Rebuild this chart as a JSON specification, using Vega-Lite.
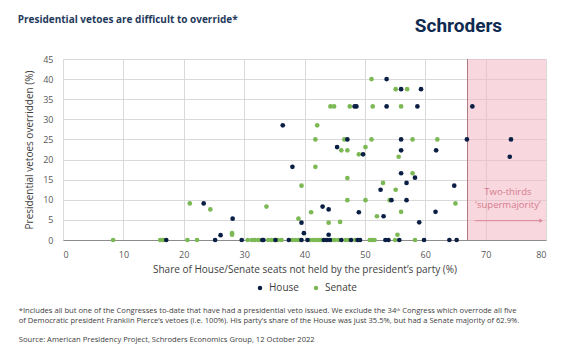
{
  "$schema": "https://vega.github.io/schema/vega-lite/v6.json",
  "width": 483,
  "height": 181,
  "autosize": {"type": "none"},
  "padding": {"left": 63, "top": 59, "right": 25, "bottom": 115},
  "background": "white",
  "config": {
    "view": {"stroke": null},
    "font": "Open Sans",
    "axis": {"gridColor": "#d9d9d9", "gridWidth": 1, "ticks": false, "labelFont": "Open Sans", "labelFontSize": 9, "labelColor": "#595959", "titleFont": "Open Sans", "titleFontSize": 10, "titleFontWeight": "normal", "titleColor": "#404040"}
  },
  "datasets": {
    "pts": [
      {"x": 8.3, "y": 0, "chamber": "Senate"},
      {"x": 16.1, "y": 0, "chamber": "Senate"},
      {"x": 16.4, "y": 0, "chamber": "Senate"},
      {"x": 16.7, "y": 0, "chamber": "Senate"},
      {"x": 20.6, "y": 0, "chamber": "Senate"},
      {"x": 22.2, "y": 0, "chamber": "Senate"},
      {"x": 30.6, "y": 0, "chamber": "Senate"},
      {"x": 31.3, "y": 0, "chamber": "Senate"},
      {"x": 31.8, "y": 0, "chamber": "Senate"},
      {"x": 32.4, "y": 0, "chamber": "Senate"},
      {"x": 34.0, "y": 0, "chamber": "Senate"},
      {"x": 34.5, "y": 0, "chamber": "Senate"},
      {"x": 35.0, "y": 0, "chamber": "Senate"},
      {"x": 35.6, "y": 0, "chamber": "Senate"},
      {"x": 36.2, "y": 0, "chamber": "Senate"},
      {"x": 38.0, "y": 0, "chamber": "Senate"},
      {"x": 38.5, "y": 0, "chamber": "Senate"},
      {"x": 39.0, "y": 0, "chamber": "Senate"},
      {"x": 39.3, "y": 0, "chamber": "Senate"},
      {"x": 40.9, "y": 0, "chamber": "Senate"},
      {"x": 41.4, "y": 0, "chamber": "Senate"},
      {"x": 41.9, "y": 0, "chamber": "Senate"},
      {"x": 42.4, "y": 0, "chamber": "Senate"},
      {"x": 42.8, "y": 0, "chamber": "Senate"},
      {"x": 44.5, "y": 0, "chamber": "Senate"},
      {"x": 45.0, "y": 0, "chamber": "Senate"},
      {"x": 45.6, "y": 0, "chamber": "Senate"},
      {"x": 46.8, "y": 0, "chamber": "Senate"},
      {"x": 47.2, "y": 0, "chamber": "Senate"},
      {"x": 48.4, "y": 0, "chamber": "Senate"},
      {"x": 50.8, "y": 0, "chamber": "Senate"},
      {"x": 51.2, "y": 0, "chamber": "Senate"},
      {"x": 51.6, "y": 0, "chamber": "Senate"},
      {"x": 55.0, "y": 0, "chamber": "Senate"},
      {"x": 58.3, "y": 0, "chamber": "Senate"},
      {"x": 21.0, "y": 9.1, "chamber": "Senate"},
      {"x": 24.4, "y": 7.6, "chamber": "Senate"},
      {"x": 28.0, "y": 1.7, "chamber": "Senate"},
      {"x": 28.0, "y": 1.3, "chamber": "Senate"},
      {"x": 33.7, "y": 8.3, "chamber": "Senate"},
      {"x": 39.5, "y": 13.5, "chamber": "Senate"},
      {"x": 39.0, "y": 5.3, "chamber": "Senate"},
      {"x": 41.1, "y": 6.9, "chamber": "Senate"},
      {"x": 41.8, "y": 18.2, "chamber": "Senate"},
      {"x": 41.8, "y": 25.0, "chamber": "Senate"},
      {"x": 42.1, "y": 28.5, "chamber": "Senate"},
      {"x": 44.0, "y": 4.3, "chamber": "Senate"},
      {"x": 44.3, "y": 33.2, "chamber": "Senate"},
      {"x": 44.9, "y": 33.2, "chamber": "Senate"},
      {"x": 45.9, "y": 4.5, "chamber": "Senate"},
      {"x": 46.1, "y": 22.3, "chamber": "Senate"},
      {"x": 46.6, "y": 25.0, "chamber": "Senate"},
      {"x": 47.1, "y": 22.3, "chamber": "Senate"},
      {"x": 47.1, "y": 15.4, "chamber": "Senate"},
      {"x": 47.1, "y": 9.9, "chamber": "Senate"},
      {"x": 47.5, "y": 33.2, "chamber": "Senate"},
      {"x": 49.0, "y": 21.3, "chamber": "Senate"},
      {"x": 50.1, "y": 9.9, "chamber": "Senate"},
      {"x": 50.1, "y": 23.1, "chamber": "Senate"},
      {"x": 51.1, "y": 40.0, "chamber": "Senate"},
      {"x": 51.1, "y": 25.0, "chamber": "Senate"},
      {"x": 51.3, "y": 33.2, "chamber": "Senate"},
      {"x": 52.0, "y": 5.9, "chamber": "Senate"},
      {"x": 53.0, "y": 14.2, "chamber": "Senate"},
      {"x": 54.1, "y": 9.9, "chamber": "Senate"},
      {"x": 55.1, "y": 37.5, "chamber": "Senate"},
      {"x": 57.0, "y": 37.5, "chamber": "Senate"},
      {"x": 55.1, "y": 12.5, "chamber": "Senate"},
      {"x": 55.6, "y": 20.7, "chamber": "Senate"},
      {"x": 55.4, "y": 1.3, "chamber": "Senate"},
      {"x": 56.0, "y": 33.2, "chamber": "Senate"},
      {"x": 57.9, "y": 25.0, "chamber": "Senate"},
      {"x": 62.0, "y": 25.0, "chamber": "Senate"},
      {"x": 57.9, "y": 16.6, "chamber": "Senate"},
      {"x": 56.0, "y": 7.0, "chamber": "Senate"},
      {"x": 65.0, "y": 9.1, "chamber": "Senate"},
      {"x": 17.1, "y": 0, "chamber": "House"},
      {"x": 25.2, "y": 0, "chamber": "House"},
      {"x": 29.6, "y": 0, "chamber": "House"},
      {"x": 33.0, "y": 0, "chamber": "House"},
      {"x": 33.2, "y": 0, "chamber": "House"},
      {"x": 35.2, "y": 0, "chamber": "House"},
      {"x": 37.4, "y": 0, "chamber": "House"},
      {"x": 39.5, "y": 0, "chamber": "House"},
      {"x": 40.5, "y": 0, "chamber": "House"},
      {"x": 43.2, "y": 0, "chamber": "House"},
      {"x": 43.7, "y": 0, "chamber": "House"},
      {"x": 44.2, "y": 0, "chamber": "House"},
      {"x": 46.1, "y": 0, "chamber": "House"},
      {"x": 47.7, "y": 0, "chamber": "House"},
      {"x": 48.8, "y": 0, "chamber": "House"},
      {"x": 49.2, "y": 0, "chamber": "House"},
      {"x": 53.4, "y": 0, "chamber": "House"},
      {"x": 53.9, "y": 0, "chamber": "House"},
      {"x": 55.7, "y": 0, "chamber": "House"},
      {"x": 59.8, "y": 0, "chamber": "House"},
      {"x": 64.0, "y": 0, "chamber": "House"},
      {"x": 65.2, "y": 0, "chamber": "House"},
      {"x": 23.3, "y": 9.1, "chamber": "House"},
      {"x": 26.1, "y": 1.2, "chamber": "House"},
      {"x": 28.1, "y": 5.3, "chamber": "House"},
      {"x": 36.4, "y": 28.5, "chamber": "House"},
      {"x": 38.0, "y": 18.2, "chamber": "House"},
      {"x": 39.5, "y": 4.3, "chamber": "House"},
      {"x": 39.9, "y": 1.7, "chamber": "House"},
      {"x": 43.0, "y": 8.3, "chamber": "House"},
      {"x": 44.0, "y": 7.6, "chamber": "House"},
      {"x": 44.0, "y": 1.3, "chamber": "House"},
      {"x": 45.4, "y": 23.1, "chamber": "House"},
      {"x": 47.1, "y": 25.0, "chamber": "House"},
      {"x": 48.3, "y": 33.2, "chamber": "House"},
      {"x": 48.6, "y": 33.2, "chamber": "House"},
      {"x": 49.7, "y": 21.3, "chamber": "House"},
      {"x": 49.0, "y": 6.9, "chamber": "House"},
      {"x": 52.6, "y": 12.5, "chamber": "House"},
      {"x": 53.1, "y": 5.9, "chamber": "House"},
      {"x": 53.6, "y": 40.0, "chamber": "House"},
      {"x": 53.6, "y": 33.2, "chamber": "House"},
      {"x": 54.4, "y": 9.9, "chamber": "House"},
      {"x": 56.0, "y": 37.5, "chamber": "House"},
      {"x": 59.3, "y": 37.5, "chamber": "House"},
      {"x": 58.7, "y": 33.2, "chamber": "House"},
      {"x": 67.8, "y": 33.2, "chamber": "House"},
      {"x": 56.0, "y": 25.0, "chamber": "House"},
      {"x": 66.9, "y": 25.0, "chamber": "House"},
      {"x": 74.2, "y": 25.0, "chamber": "House"},
      {"x": 56.0, "y": 22.3, "chamber": "House"},
      {"x": 61.8, "y": 22.3, "chamber": "House"},
      {"x": 74.0, "y": 20.7, "chamber": "House"},
      {"x": 56.0, "y": 16.6, "chamber": "House"},
      {"x": 58.3, "y": 15.5, "chamber": "House"},
      {"x": 56.9, "y": 14.2, "chamber": "House"},
      {"x": 64.8, "y": 13.5, "chamber": "House"},
      {"x": 56.9, "y": 9.9, "chamber": "House"},
      {"x": 61.7, "y": 7.0, "chamber": "House"},
      {"x": 59.0, "y": 4.4, "chamber": "House"}
    ],
    "zone": [{"x": 67, "x2": 80, "y": 0, "y2": 45}],
    "arrow": [{"x": 68.2, "x2": 79.0, "y": 4.8}],
    "head": [{"x": 79.2, "y": 4.8}],
    "anno": [
      {"x": 73.7, "y": 12.0, "t": "Two-thirds"},
      {"x": 73.7, "y": 8.7, "t": "‘supermajority’"}
    ],
    "heading": [{"x": -7.5, "y": 54.0, "t": "Presidential vetoes are difficult to override*"}],
    "logo": [{"x": 65.5, "y": 51.8, "t": "Schroders"}],
    "notes": [
      {"x": -7.33, "y": -17.6, "t": "*Includes all but one of the Congresses to-date that have had a presidential veto issued. We exclude the 34ᵗʰ Congress which overrode all five"},
      {"x": -7.33, "y": -20.1, "t": "of Democratic president Franklin Pierce’s vetoes (i.e. 100%). His party’s share of the House was just 35.5%, but had a Senate majority of 62.9%."},
      {"x": -7.33, "y": -24.8, "t": "Source: American Presidency Project, Schroders Economics Group, 12 October 2022"}
    ]
  },
  "encoding": {
    "x": {"field": "x", "type": "quantitative", "scale": {"domain": [0, 80], "nice": false, "zero": false},
      "axis": {"values": [0, 10, 20, 30, 40, 50, 60, 70, 80], "title": "Share of House/Senate seats not held by the president’s party (%)", "domain": true, "domainColor": "#8c8c8c", "domainWidth": 1, "labelPadding": 10, "titlePadding": 5}},
    "y": {"field": "y", "type": "quantitative", "scale": {"domain": [0, 45], "nice": false, "zero": false},
      "axis": {"values": [0, 5, 10, 15, 20, 25, 30, 35, 40, 45], "title": "Presidential vetoes overridden (%)", "domain": false, "labelPadding": 10, "titlePadding": 8}}
  },
  "layer": [
    {
      "data": {"name": "zone"},
      "mark": {"type": "rect", "color": "#f2b8c2", "opacity": 0.55},
      "encoding": {"x2": {"field": "x2"}, "y2": {"field": "y2"}}
    },
    {
      "data": {"name": "zone"},
      "mark": {"type": "rule", "color": "#b07a83", "strokeWidth": 1},
      "encoding": {"y2": {"field": "y2"}}
    },
    {
      "data": {"name": "arrow"},
      "mark": {"type": "rule", "color": "#d9869a", "strokeWidth": 1},
      "encoding": {"x2": {"field": "x2"}}
    },
    {
      "data": {"name": "head"},
      "mark": {"type": "point", "shape": "triangle-right", "filled": true, "color": "#d9869a", "size": 18, "opacity": 1}
    },
    {
      "data": {"name": "anno"},
      "mark": {"type": "text", "color": "#d67a8e", "fontSize": 9.5, "font": "Open Sans", "align": "center", "baseline": "middle"},
      "encoding": {"text": {"field": "t"}}
    },
    {
      "data": {"name": "pts"},
      "mark": {"type": "circle", "size": 22, "opacity": 1},
      "encoding": {
        "color": {"field": "chamber", "type": "nominal",
          "scale": {"domain": ["House", "Senate"], "range": ["#0b1f45", "#7cb954"]},
          "legend": {"title": null, "orient": "none", "legendX": 192, "legendY": 224, "direction": "horizontal", "symbolType": "circle", "symbolSize": 20, "labelFontSize": 10, "labelFont": "Open Sans", "labelColor": "#404040", "columnPadding": 12, "symbolOffset": 0}
        }
      }
    },
    {
      "data": {"name": "heading"},
      "mark": {"type": "text", "color": "#1f3b5c", "fontSize": 10, "fontWeight": "bold", "font": "Open Sans", "align": "left", "baseline": "alphabetic"},
      "encoding": {"text": {"field": "t"}}
    },
    {
      "data": {"name": "logo"},
      "mark": {"type": "text", "color": "#0f2a4f", "fontSize": 19, "fontWeight": "bold", "font": "Roboto", "align": "center", "baseline": "alphabetic"},
      "encoding": {"text": {"field": "t"}}
    },
    {
      "data": {"name": "notes"},
      "mark": {"type": "text", "color": "#404040", "fontSize": 7.6, "font": "Open Sans", "align": "left", "baseline": "middle"},
      "encoding": {"text": {"field": "t"}}
    }
  ]
}
